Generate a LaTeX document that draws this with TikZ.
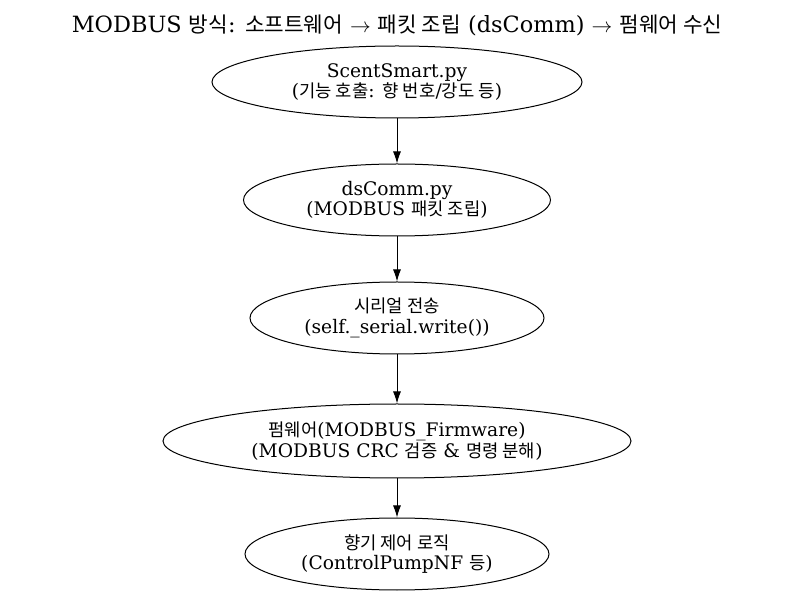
\documentclass[tikz,border=0pt]{standalone}
\usepackage{fontspec}
\setmainfont{DejaVu Serif}
\newfontfamily\kr{Noto Sans CJK KR}[Scale=0.95]
\usetikzlibrary{arrows.meta, shapes.geometric, positioning}

\begin{document}
\begin{tikzpicture}[x=1pt, y=-1pt,
  stage/.style={draw, ellipse, line width=1pt, inner sep=0pt, align=center,
    font=\fontsize{18.67}{20.5}\selectfont},
  flow/.style={line width=1pt, -{Latex[length=12pt,width=8pt]}}]
\useasboundingbox (0,0) rectangle (793,601);

\node (Title) at (397,25) {\fontsize{22.4}{25}\selectfont MODBUS {\kr 방식}: {\kr 소프트웨어} $\rightarrow$ {\kr 패킷 조립} (dsComm) $\rightarrow$ {\kr 펌웨어 수신}};

\node (App) [stage, minimum width=370pt, minimum height=72pt] at (397,82) {ScentSmart.py\\({\kr 기능 호출}: {\kr 향 번호}/{\kr 강도 등})};
\node (Comm) [stage, minimum width=307pt, minimum height=72pt] at (397,200) {dsComm.py\\(MODBUS {\kr 패킷 조립})};
\node (Serial) [stage, minimum width=294pt, minimum height=72pt] at (397,318) {{\kr 시리얼 전송}\\(self.\_serial.write())};
\node (Firmware) [stage, minimum width=468pt, minimum height=74pt] at (397,441) {{\kr 펌웨어}(MODBUS\_Firmware)\\(MODBUS CRC {\kr 검증} \& {\kr 명령 분해})};
\node (Logic) [stage, minimum width=304pt, minimum height=72pt] at (397,554) {{\kr 향기 제어 로직}\\(ControlPumpNF {\kr 등})};

\draw[flow] (App) -- (Comm);
\draw[flow] (Comm) -- (Serial);
\draw[flow] (Serial) -- (Firmware);
\draw[flow] (Firmware) -- (Logic);
\end{tikzpicture}
\end{document}
